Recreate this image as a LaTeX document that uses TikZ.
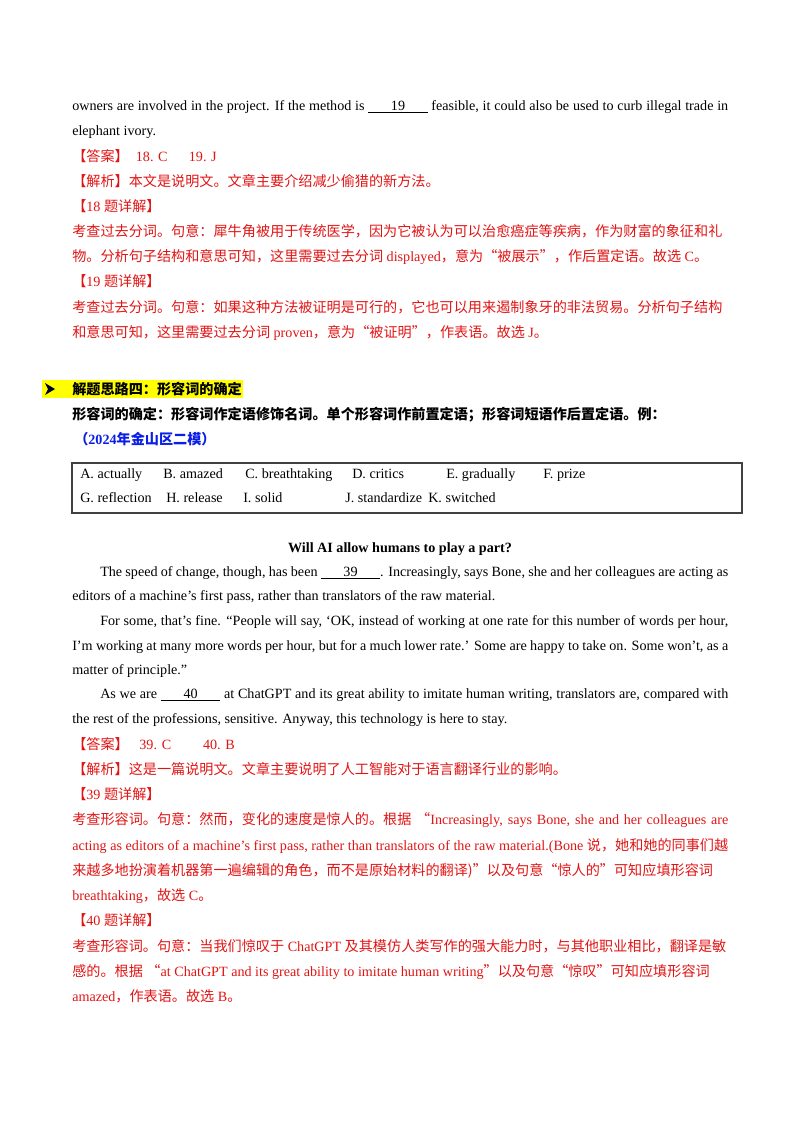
\documentclass[tikz,border=0pt]{standalone}
\usepackage{fontspec}
\setmainfont{Liberation Serif}
\newfontfamily\cjkf{Noto Sans CJK SC}
\newcommand\zh[1]{{\cjkf #1}}
\newcommand\blank[1]{\underline{\hspace{1.6em}#1\hspace{1.6em}}}
\definecolor{ansred}{RGB}{225,20,20}
\definecolor{hblue}{RGB}{10,30,230}
\definecolor{hlyel}{RGB}{255,255,0}
\newcommand\fl[3]{\node[T] at (#1,#2) {\hbox to \dimexpr0.75pt*\numexpr728-#1\relax\relax{#3}};}
\newcommand\pl[3]{\node[T] at (#1,#2) {#3};}
\begin{document}
\begin{tikzpicture}[x=0.75pt,y=-0.75pt,
  T/.style={anchor=base west,inner sep=0pt,font=\fontsize{10.6pt}{12pt}\selectfont}]
\useasboundingbox (0,0) rectangle (800,1132);
% ---- top paragraph
\fl{72}{110}{owners are involved in the project. If the method is \blank{19} feasible, it could also be used to curb illegal trade in}
\pl{72}{135}{elephant ivory.}
\begin{scope}[every node/.append style={text=ansred}]
\pl{72}{161}{\zh{【答案】} \ 18. C \quad\ 19. J}
\pl{72}{186}{\zh{【解析】本文是说明文。文章主要介绍减少偷猎的新方法。}}
\pl{72}{211}{\zh{【}18 \zh{题详解】}}
\pl{72}{236}{\zh{考查过去分词。句意：犀牛角被用于传统医学，因为它被认为可以治愈癌症等疾病，作为财富的象征和礼}}
\pl{72}{261}{\zh{物。分析句子结构和意思可知，这里需要过去分词} displayed\zh{，意为“被展示”，作后置定语。故选} C\zh{。}}
\pl{72}{286}{\zh{【}19 \zh{题详解】}}
\pl{72}{312}{\zh{考查过去分词。句意：如果这种方法被证明是可行的，它也可以用来遏制象牙的非法贸易。分析句子结构}}
\pl{72}{337}{\zh{和意思可知，这里需要过去分词} proven\zh{，意为“被证明”，作表语。故选} J\zh{。}}
\end{scope}
% ---- heading
\fill[hlyel] (42,380) rectangle (243,398);
\fill[black!80!blue] (45,383) -- (55,389) -- (45,395) -- (48,389) -- cycle;
\pl{72}{394}{\bfseries\zh{解题思路四：形容词的确定}}
\pl{72}{419}{\bfseries\zh{形容词的确定：形容词作定语修饰名词。单个形容词作前置定语；形容词短语作后置定语。例：}}
\pl{74}{444}{\bfseries\color{hblue}\zh{（}2024\zh{年金山区二模）}}
% ---- box
\draw[line width=0.8pt,black!75] (72,463) rectangle (742,513);
\pl{80}{478}{A. actually}\pl{163}{478}{B. amazed}\pl{245}{478}{C. breathtaking}
\pl{352}{478}{D. critics}\pl{446}{478}{E. gradually}\pl{543}{478}{F. prize}
\pl{80}{502}{G. reflection}\pl{166}{502}{H. release}\pl{243}{502}{I. solid}
\pl{345}{502}{J. standardize}\pl{428}{502}{K. switched}
% ---- passage
\node[T,anchor=base] at (400,552) {\bfseries Will AI allow humans to play a part?};
\fl{100}{576}{The speed of change, though, has been \blank{39}. Increasingly, says Bone, she and her colleagues are acting as}
\pl{72}{600}{editors of a machine’s first pass, rather than translators of the raw material.}
\fl{100}{625}{For some, that’s fine. “People will say, ‘OK, instead of working at one rate for this number of words per hour,}
\fl{72}{650}{I’m working at many more words per hour, but for a much lower rate.’ Some are happy to take on. Some won’t, as a}
\pl{72}{674}{matter of principle.”}
\fl{100}{698}{As we are \blank{40} at ChatGPT and its great ability to imitate human writing, translators are, compared with}
\pl{72}{723}{the rest of the professions, sensitive. Anyway, this technology is here to stay.}
\begin{scope}[every node/.append style={text=ansred}]
\pl{72}{749}{\zh{【答案】} \ \ 39. C \qquad 40. B}
\pl{72}{774}{\zh{【解析】这是一篇说明文。文章主要说明了人工智能对于语言翻译行业的影响。}}
\pl{72}{799}{\zh{【}39 \zh{题详解】}}
\fl{72}{824}{\zh{考查形容词。句意：然而，变化的速度是惊人的。根据}\ \zh{“}Increasingly, says Bone, she and her colleagues are}
\fl{72}{850}{acting as editors of a machine’s first pass, rather than translators of the raw material.(Bone \zh{说，她和她的同事们越}}
\pl{72}{875}{\zh{来越多地扮演着机器第一遍编辑的角色，而不是原始材料的翻译}\zh{)”以及句意“惊人的”可知应填形容词}}
\pl{72}{900}{breathtaking\zh{，故选} C\zh{。}}
\pl{72}{925}{\zh{【}40 \zh{题详解】}}
\pl{72}{951}{\zh{考查形容词。句意：当我们惊叹于} ChatGPT \zh{及其模仿人类写作的强大能力时，与其他职业相比，翻译是敏}}
\pl{72}{976}{\zh{感的。根据}\ \zh{“}at ChatGPT and its great ability to imitate human writing\zh{”以及句意“惊叹”可知应填形容词}}
\pl{72}{1001}{amazed\zh{，作表语。故选} B\zh{。}}
\end{scope}
\end{tikzpicture}
\end{document}
